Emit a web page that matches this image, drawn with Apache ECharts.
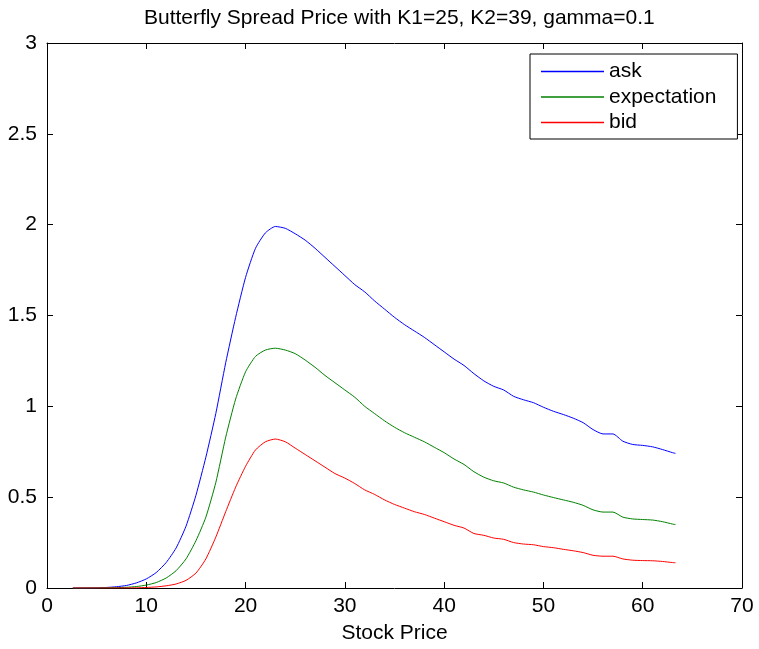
<!DOCTYPE html>
<html>
<head>
<meta charset="utf-8">
<script src="https://cdn.jsdelivr.net/npm/echarts@6/dist/echarts.min.js"></script>
<style>html,body{margin:0;padding:0;background:#fff;}#c{width:759px;height:649px;}</style>
</head>
<body>
<div id="c"></div>
<script>
var stockPrice = [2.6, 3, 4, 5, 6, 7, 8, 9, 10, 11, 12, 13, 14, 15, 16, 17, 18, 19, 20, 21, 22, 23, 24, 25, 26, 27, 28, 29, 30, 31, 32, 33, 34, 35, 36, 37, 38, 39, 40, 41, 42, 43, 44, 45, 46, 47, 48, 49, 50, 51, 52, 53, 54, 55, 56, 57, 58, 59, 60, 61, 62, 63, 63.3];
var ask = [0, 0, 0.0005, 0.001, 0.003, 0.007, 0.014, 0.028, 0.05, 0.085, 0.14, 0.22, 0.34, 0.51, 0.72, 0.96, 1.24, 1.49, 1.71, 1.87, 1.955, 1.99, 1.98, 1.95, 1.915, 1.87, 1.82, 1.77, 1.72, 1.67, 1.63, 1.58, 1.535, 1.49, 1.45, 1.415, 1.38, 1.34, 1.30, 1.26, 1.225, 1.18, 1.14, 1.11, 1.09, 1.055, 1.036, 1.02, 0.995, 0.973, 0.955, 0.935, 0.91, 0.872, 0.848, 0.848, 0.808, 0.790, 0.785, 0.777, 0.762, 0.745, 0.741];
var expectation = [0, 0, 0, 0.0005, 0.001, 0.002, 0.004, 0.008, 0.016, 0.03, 0.055, 0.095, 0.16, 0.26, 0.39, 0.58, 0.83, 1.04, 1.19, 1.275, 1.31, 1.32, 1.31, 1.29, 1.255, 1.215, 1.17, 1.13, 1.09, 1.05, 1.0, 0.96, 0.92, 0.885, 0.855, 0.83, 0.805, 0.775, 0.745, 0.71, 0.68, 0.64, 0.61, 0.59, 0.578, 0.555, 0.54, 0.528, 0.512, 0.498, 0.485, 0.472, 0.455, 0.43, 0.418, 0.418, 0.39, 0.38, 0.377, 0.374, 0.365, 0.352, 0.349];
var bid = [0, 0, 0, 0, 0, 0, 0.0005, 0.001, 0.003, 0.006, 0.012, 0.022, 0.042, 0.082, 0.16, 0.28, 0.42, 0.555, 0.67, 0.76, 0.805, 0.82, 0.805, 0.77, 0.735, 0.70, 0.665, 0.63, 0.605, 0.575, 0.54, 0.515, 0.485, 0.46, 0.44, 0.42, 0.405, 0.385, 0.365, 0.345, 0.33, 0.30, 0.29, 0.275, 0.268, 0.25, 0.242, 0.238, 0.228, 0.222, 0.213, 0.205, 0.195, 0.18, 0.175, 0.175, 0.16, 0.153, 0.151, 0.150, 0.146, 0.14, 0.139];
var seriesNames = ['ask', 'expectation', 'bid'];
var seriesColors = ['#0000ff', '#008000', '#ff0000'];
var titleText = 'Butterfly Spread Price with K1=25, K2=39, gamma=0.1';
var xAxisName = 'Stock Price';

function pairs(ys) { return stockPrice.map(function (x, i) { return [x, ys[i]]; }); }
var allData = [ask, expectation, bid];
var FONT = 'Liberation Sans, Arial, Helvetica, sans-serif';
var FS = 21;

var chart = echarts.init(document.getElementById('c'), null, {renderer: 'canvas'});
function tick() { return {show: true, inside: false, length: -6, lineStyle: {color: '#000', width: 1}}; }
function axLine() { return {show: true, onZero: false, lineStyle: {color: '#000', width: 1}}; }
chart.setOption({
  animation: false,
  backgroundColor: '#fff',
  title: {text: titleText, left: 139, top: 3, textStyle: {fontFamily: FONT, fontSize: FS, fontWeight: 'normal', color: '#000'}},
  grid: {left: 47, right: 17, top: 43, bottom: 58, containLabel: false},
  legend: {
    orient: 'vertical', left: 530, top: 54, icon: 'rect', itemWidth: 63, itemHeight: 1.5, itemGap: 4.5,
    borderColor: '#000', borderWidth: 1, padding: [7, 21, 6, 11], backgroundColor: '#fff',
    textStyle: {fontFamily: FONT, fontSize: FS, color: '#000'},
    data: seriesNames.map(function (n, i) { return {name: n, itemStyle: {color: seriesColors[i]}}; })
  },
  xAxis: [
    {type: 'value', min: 0, max: 70, interval: 10, name: xAxisName, nameLocation: 'middle', nameGap: 35,
     nameTextStyle: {fontFamily: FONT, fontSize: FS, color: '#000'},
     axisLine: axLine(), axisTick: tick(), splitLine: {show: false},
     axisLabel: {fontFamily: FONT, fontSize: FS, color: '#000', margin: 8}},
    {type: 'value', min: 0, max: 70, interval: 10, position: 'top',
     axisLine: axLine(), axisTick: tick(), splitLine: {show: false}, axisLabel: {show: false}}
  ],
  yAxis: [
    {type: 'value', min: 0, max: 3, interval: 0.5,
     axisLine: axLine(), axisTick: tick(), splitLine: {show: false},
     axisLabel: {fontFamily: FONT, fontSize: FS, color: '#000', margin: 10}},
    {type: 'value', min: 0, max: 3, interval: 0.5, position: 'right',
     axisLine: axLine(), axisTick: tick(), splitLine: {show: false}, axisLabel: {show: false}}
  ],
  series: seriesNames.map(function (n, i) {
    return {name: n, type: 'line', data: pairs(allData[i]), symbol: 'none', showSymbol: false,
      smooth: 0.2,
      color: seriesColors[i], lineStyle: {width: 1, color: seriesColors[i]}, itemStyle: {color: seriesColors[i]}};
  })
});
</script>
</body>
</html>
